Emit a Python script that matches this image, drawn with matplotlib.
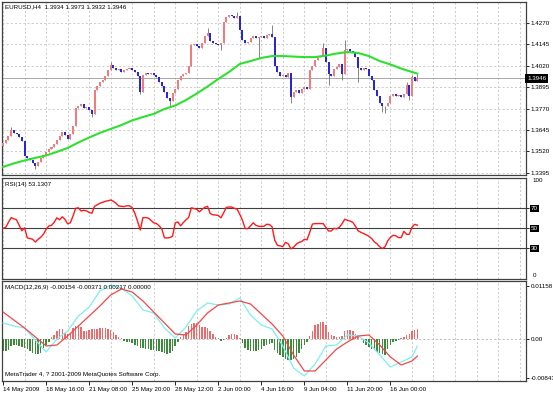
import numpy as np
import matplotlib
matplotlib.use("Agg")
import matplotlib.pyplot as plt
from matplotlib import font_manager as fm
from matplotlib.transforms import blended_transform_factory

# ---------------- data ----------------
symbol_text = "EURUSD,H4  1.3934 1.3973 1.3932 1.3946"
rsi_text = "RSI(14) 53.1307"
macd_text = "MACD(12,26,9) -0.00154 -0.00371 0.00217 0.00000"
credit_text = "MetaTrader 4, ? 2001-2009 MetaQuotes Software Corp."

first_open = 1.3552
close = [
    1.3569, 1.3587, 1.3610, 1.3645, 1.3628, 1.3622, 1.3604, 1.3581, 1.3493, 1.3482,
    1.3470, 1.3452, 1.3435, 1.3458, 1.3482, 1.3499, 1.3517, 1.3534, 1.3546, 1.3563,
    1.3587, 1.3610, 1.3633, 1.3616, 1.3593, 1.3622, 1.3669, 1.3774, 1.3785, 1.3797,
    1.3774, 1.3779, 1.3762, 1.3739, 1.3879, 1.3902, 1.3925, 1.3937, 1.3960, 1.3996,
    1.4025, 1.4007, 1.3996, 1.4001, 1.3984, 1.3996, 1.4001, 1.4007, 1.3996, 1.3984,
    1.3960, 1.3867, 1.3966, 1.3978, 1.3972, 1.3978, 1.3966, 1.3955, 1.3925, 1.3902,
    1.3867, 1.3832, 1.3814, 1.3861, 1.3885, 1.3937, 1.3960, 1.3972, 1.3978, 1.4019,
    1.4142, 1.4147, 1.4136, 1.4124, 1.4153, 1.4194, 1.4212, 1.4165, 1.4153, 1.4147,
    1.4142, 1.4153, 1.4276, 1.4305, 1.4317, 1.4311, 1.4299, 1.4311, 1.4229, 1.4171,
    1.4153, 1.4159, 1.4182, 1.4194, 1.4182, 1.4188, 1.4194, 1.4182, 1.4200, 1.4206,
    1.4188, 1.4019, 1.3984, 1.3960, 1.3966, 1.3955, 1.3978, 1.3838, 1.3867, 1.3879,
    1.3861, 1.3885, 1.3896, 1.3885, 1.3996, 1.4019, 1.4054, 1.4071, 1.4077, 1.4124,
    1.4042, 1.3972, 1.3960, 1.4001, 1.4013, 1.4031, 1.3972, 1.4112, 1.4118, 1.4106,
    1.4101, 1.4071, 1.4007, 1.3996, 1.4007, 1.4001, 1.3960, 1.3937, 1.3879, 1.3844,
    1.3803, 1.3785, 1.3785, 1.3803, 1.3844, 1.3855, 1.3844, 1.3850, 1.3838, 1.3855,
    1.3908, 1.3844, 1.3955, 1.3934, 1.3946,
]
high_marks = {3: 1.3663, 40: 1.4042, 76: 1.4241, 87: 1.4334, 100: 1.4258,
              119: 1.4153, 127: 1.4171, 150: 1.3925, 152: 1.3966, 154: 1.3973}
low_marks = {12: 1.3417, 33: 1.3721, 51: 1.3855, 62: 1.3785, 81: 1.4112,
             95: 1.4065, 107: 1.3803, 121: 1.3908, 126: 1.3937, 132: 1.3925,
             141: 1.3750, 142: 1.3744, 151: 1.3820, 154: 1.3932}

sample_idx = list(range(0, 153, 4)) + [154]
ma_values = [
    1.3429, 1.3450, 1.3467, 1.3482, 1.3496, 1.3517, 1.3540, 1.3572, 1.3601, 1.3628,
    1.3651, 1.3674, 1.3701, 1.3721, 1.3739, 1.3768, 1.3788, 1.3820, 1.3858, 1.3899,
    1.3943, 1.3984, 1.4031, 1.4048, 1.4066, 1.4077, 1.4077, 1.4074, 1.4071, 1.4071,
    1.4080, 1.4092, 1.4101, 1.4095, 1.4077, 1.4048, 1.4028, 1.4004, 1.3984, 1.3975,
]

rsi_values = [
    50, 51, 56, 60.7, 59.5, 58.5, 53, 47.5, 50.5, 40.5,
    39.8, 39, 36.3, 39, 41, 44, 49, 52.3, 53, 56,
    60.5, 58.5, 61.5, 59, 54.5, 55.5, 62.3, 70, 70.5, 67.3,
    68, 67.5, 65.8, 65, 72, 73.5, 75, 76, 77, 77.5,
    78.3, 77, 75, 72.3, 72, 71.7, 72.5, 72.5, 70.7, 65,
    57, 48.3, 60.7, 60.7, 60.2, 58, 55.5, 54.8, 52.5, 49.5,
    40.5, 40.3, 40.8, 42, 55.5, 56.3, 52.5, 55.7, 58.5, 61,
    70.5, 69.7, 69, 66.5, 69, 71, 72, 64.8, 63.5, 63.3,
    62.8, 60.5, 65.5, 71, 71.3, 71.2, 70, 69.2, 64, 58,
    49.7, 49.7, 52.5, 55.5, 53, 52, 52, 52, 54, 53.8,
    51.5, 38, 33, 32.3, 31.7, 36, 34.5, 29.5, 31, 34,
    36, 36.7, 39, 38.5, 46, 54.2, 54.7, 54.7, 54.7, 54.7,
    51, 47.3, 47.3, 50, 49.5, 51, 54.5, 59, 58, 57.2,
    56, 52, 47.5, 46, 44.8, 43.5, 42, 39.8, 36.5, 34.5,
    31.5, 29.8, 31.5, 37.5, 41, 43, 42.5, 40.7, 40.7, 47,
    44, 44, 51, 54, 53.13,
]

macd_main = [
    0.00348, 0.00283, 0.00239, -0.00022, -0.00283, 0.00000, 0.00174, 0.00500, 0.00696, 0.01044,
    0.01175, 0.01109, 0.00935, 0.00631, 0.00566, 0.00239, 0.00022, 0.00261, 0.00609, 0.00783,
    0.00740, 0.00761, 0.00892, 0.00522, 0.00305, 0.00218, -0.00152, -0.00631, -0.00805, -0.00544,
    -0.00152, -0.00131, 0.00087, 0.00065, -0.00087, -0.00348, -0.00609, -0.00500, -0.00392, -0.00154,
]
macd_signal = [
    0.00587, 0.00413, 0.00239, 0.00044, -0.00152, -0.00131, 0.00065, 0.00283, 0.00500, 0.00718,
    0.00957, 0.01088, 0.01022, 0.00827, 0.00587, 0.00348, 0.00109, 0.00087, 0.00305, 0.00566,
    0.00740, 0.00783, 0.00827, 0.00761, 0.00544, 0.00326, 0.00065, -0.00348, -0.00696, -0.00696,
    -0.00457, -0.00218, -0.00065, 0.00065, 0.00087, -0.00131, -0.00392, -0.00566, -0.00479, -0.00371,
]
macd_hist = [
    -0.00261, -0.00261, -0.00239, -0.00152, -0.00131, -0.00131, -0.00152, -0.00174, -0.00196, -0.00218,
    -0.00261, -0.00305, -0.00326, -0.00326, -0.00305, -0.00196, -0.00131, -0.00065, 0.00044, 0.00087,
    0.00174, 0.00218, 0.00218, 0.00131, 0.00109, 0.00131, 0.00239, 0.00283, 0.00283, 0.00261,
    0.00174, 0.00174, 0.00196, 0.00218, 0.00218, 0.00218, 0.00239, 0.00239, 0.00239, 0.00218,
    0.00196, 0.00152, 0.00087, 0.00044, 0.00022, -0.00044, -0.00065, -0.00065, -0.00087, -0.00131,
    -0.00152, -0.00196, -0.00196, -0.00218, -0.00218, -0.00239, -0.00239, -0.00261, -0.00261, -0.00283,
    -0.00305, -0.00326, -0.00305, -0.00261, -0.00152, -0.00065, 0.00044, 0.00087, 0.00152, 0.00283,
    0.00326, 0.00348, 0.00348, 0.00305, 0.00261, 0.00261, 0.00239, 0.00174, 0.00109, 0.00044,
    0.00022, -0.00044, -0.00022, 0.00022, 0.00087, 0.00109, 0.00109, 0.00087, 0.00022, -0.00087,
    -0.00196, -0.00239, -0.00261, -0.00261, -0.00261, -0.00239, -0.00218, -0.00152, -0.00131, -0.00109,
    -0.00087, -0.00239, -0.00305, -0.00348, -0.00392, -0.00435, -0.00457, -0.00457, -0.00435, -0.00392,
    -0.00305, -0.00218, -0.00131, -0.00065, 0.00065, 0.00174, 0.00305, 0.00326, 0.00370, 0.00370,
    0.00305, 0.00152, 0.00087, 0.00065, 0.00044, 0.00044, 0.00065, 0.00174, 0.00196, 0.00196,
    0.00174, 0.00109, 0.00044, 0.00000, -0.00087, -0.00131, -0.00174, -0.00218, -0.00239, -0.00283,
    -0.00305, -0.00326, -0.00348, -0.00218, -0.00131, -0.00065, -0.00044, -0.00022, 0.00022, 0.00044,
    0.00087, 0.00109, 0.00174, 0.00196, 0.00217,
]

price_ticks = [1.4270, 1.4145, 1.4020, 1.3895, 1.3770, 1.3645, 1.3520, 1.3395]
current_price = 1.3946
rsi_levels = [70, 50, 30]
macd_ticks = [0.01158, 0.0, -0.00843]
macd_tick_labels = ["0.01158", "0.00", "-0.00843"]
date_positions = [0, 16, 32, 48, 64, 80, 96, 112, 128, 144]
date_labels = ["14 May 2009", "18 May 16:00", "21 May 08:00", "25 May 20:00",
               "28 May 12:00", "2 Jun 00:00", "4 Jun 16:00", "9 Jun 04:00",
               "11 Jun 20:00", "16 Jun 00:00"]

# ---------------- fonts ----------------
_names = {f.name for f in fm.fontManager.ttflist}
if "Liberation Sans Narrow" in _names:
    plt.rcParams["font.family"] = ["Liberation Sans Narrow", "DejaVu Sans"]
    FS = 5.4
else:
    plt.rcParams["font.family"] = ["Liberation Sans", "DejaVu Sans"]
    FS = 4.5

# ---------------- figure ----------------
W, H = 553, 393
fig = plt.figure(figsize=(W / 100, H / 100), dpi=100)
fig.patch.set_facecolor("white")

def frac(top, bottom, left=2, right=526):
    return [left / W, 1 - bottom / H, (right - left) / W, (bottom - top) / H]

ax_p = fig.add_axes(frac(2, 175))
ax_r = fig.add_axes(frac(178, 279))
ax_m = fig.add_axes(frac(281, 381))

GRID = dict(color="#c4c4c4", linestyle=(0, (2.5, 2.5)), linewidth=0.6)
XMAX = 194.4
for ax in (ax_p, ax_r, ax_m):
    ax.set_xlim(-0.4, XMAX)
    for s in ax.spines.values():
        s.set_color("#404040")
        s.set_linewidth(0.9)
    ax.set_xticks(np.arange(0, XMAX, 8), minor=True)
    ax.grid(which="minor", axis="x", **GRID)
    ax.tick_params(which="minor", length=0)
    ax.yaxis.tick_right()
    ax.tick_params(axis="y", labelsize=FS, length=2, pad=1.5, colors="#000000", width=0.6)
    ax.set_axisbelow(True)

# ---- price panel ----
c = np.array(close)
n = len(c)
idx = np.arange(n)
o = np.r_[first_open, c[:-1]]
hi = np.maximum(o, c)
lo = np.minimum(o, c)
for k, v in high_marks.items():
    hi[k] = v
for k, v in low_marks.items():
    lo[k] = v
up = c >= o
ax_p.vlines(idx, lo, hi, color="#707070", linewidth=0.6, zorder=2)
body_bot = np.minimum(o, c)
body_h = np.maximum(np.abs(c - o), 0.00015)
ax_p.bar(idx[up], body_h[up], bottom=body_bot[up], width=0.75,
         color="#f07c7c", edgecolor="none", zorder=3)
ax_p.bar(idx[~up], body_h[~up], bottom=body_bot[~up], width=0.75,
         color="#2727d8", edgecolor="none", zorder=3)
ax_p.plot(sample_idx, ma_values, color="#2fe02f", linewidth=1.5, zorder=4)
ax_p.axhline(current_price, color="#a8a8a8", linewidth=0.7, zorder=1)
ax_p.set_ylim(1.3382, 1.4393)
ax_p.set_yticks(price_ticks)
ax_p.set_yticklabels([f"{v:.4f}" for v in price_ticks])
ax_p.grid(which="major", axis="y", **GRID)
ax_p.set_xticks([])
ax_p.text(0.006, 0.985, symbol_text, transform=ax_p.transAxes, fontsize=FS,
          ha="left", va="top", color="black")
tr = blended_transform_factory(ax_p.transAxes, ax_p.transData)
ax_p.text(1.002, current_price, f"{current_price:.4f}", transform=tr, fontsize=FS,
          ha="left", va="center", color="white",
          bbox=dict(facecolor="black", edgecolor="none", pad=1.2), clip_on=False)

# ---- RSI panel ----
ax_r.plot(idx, rsi_values, color="#ff1a1a", linewidth=1.0, zorder=3)
for lv in rsi_levels:
    ax_r.axhline(lv, color="#404040", linewidth=0.8, zorder=2)
ax_r.set_ylim(-0.7, 100.3)
ax_r.set_yticks(rsi_levels)
ax_r.set_yticklabels([str(v) for v in rsi_levels])
for lab in ax_r.get_yticklabels():
    lab.set_color("white")
    lab.set_bbox(dict(facecolor="black", edgecolor="none", pad=0.6))
ax_r.set_xticks([])
trr = blended_transform_factory(ax_r.transAxes, ax_r.transData)
ax_r.text(1.012, 100, "100", transform=trr, fontsize=FS, ha="left", va="top")
ax_r.text(1.012, 0.5, "0", transform=trr, fontsize=FS, ha="left", va="bottom")
ax_r.text(0.006, 0.96, rsi_text, transform=ax_r.transAxes, fontsize=FS,
          ha="left", va="top")

# ---- MACD panel ----
hv = np.array(macd_hist)
ax_m.bar(idx[hv >= 0], hv[hv >= 0], width=0.55, color="#ee6a6a", zorder=2)
ax_m.bar(idx[hv < 0], hv[hv < 0], width=0.55, color="#3d8a3d", zorder=2)
ax_m.plot(sample_idx, macd_main, color="#7eeeee", linewidth=0.9, zorder=3)
ax_m.plot(sample_idx, macd_signal, color="#f04848", linewidth=0.9, zorder=4)
ax_m.axhline(0, color="#b0b0b0", linewidth=0.6, linestyle=(0, (2.5, 2.5)), zorder=1)
ax_m.set_ylim(-0.00914, 0.01262)
ax_m.set_yticks(macd_ticks)
ax_m.set_yticklabels(macd_tick_labels)
ax_m.set_xticks(date_positions)
ax_m.set_xticklabels(date_labels, fontsize=FS, ha="left")
ax_m.tick_params(axis="x", which="major", length=3, pad=1.5, width=0.6)
ax_m.text(0.006, 0.96, macd_text, transform=ax_m.transAxes, fontsize=FS,
          ha="left", va="top")
ax_m.text(0.006, 0.04, credit_text, transform=ax_m.transAxes, fontsize=FS,
          ha="left", va="bottom")

fig.savefig("out.png", dpi=100, facecolor="white")
